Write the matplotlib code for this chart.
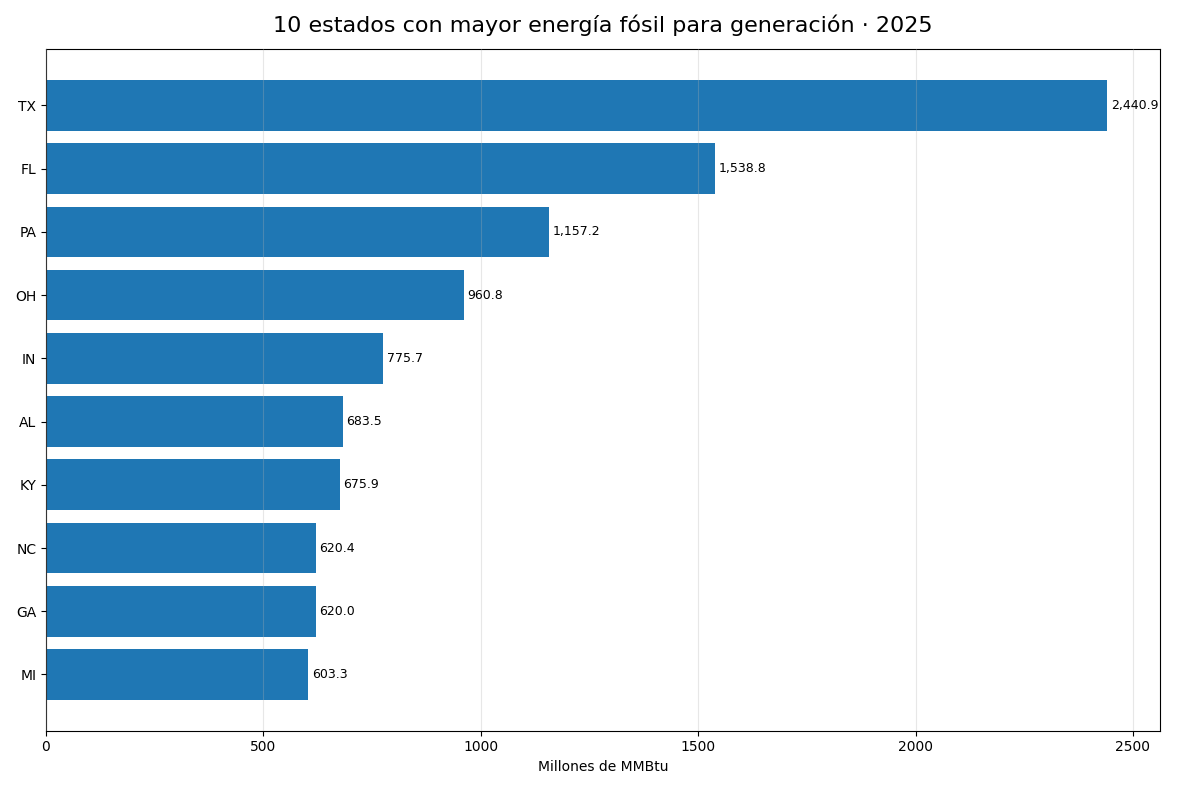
import matplotlib.pyplot as plt

states = ["TX", "FL", "PA", "OH", "IN", "AL", "KY", "NC", "GA", "MI"]
values = [2440.9, 1538.8, 1157.2, 960.8, 775.7, 683.5, 675.9, 620.4, 620.0, 603.3]

fig, ax = plt.subplots(figsize=(11.82, 7.89), dpi=100)
bars = ax.barh(states[::-1], values[::-1], color="#1f77b4")
for b, v in zip(bars, values[::-1]):
    ax.text(b.get_width() + 8, b.get_y() + b.get_height() / 2, f"{v:,.1f}",
            va="center", ha="left", fontsize=9)
ax.set_xlabel("Millones de MMBtu")
ax.set_title("10 estados con mayor energía fósil para generación · 2025", fontsize=16, pad=12)
ax.grid(axis="x", alpha=0.3)
ax.set_axisbelow(False)
ax.set_xlim(0, 2563)
fig.tight_layout()
fig.savefig("out.png")
